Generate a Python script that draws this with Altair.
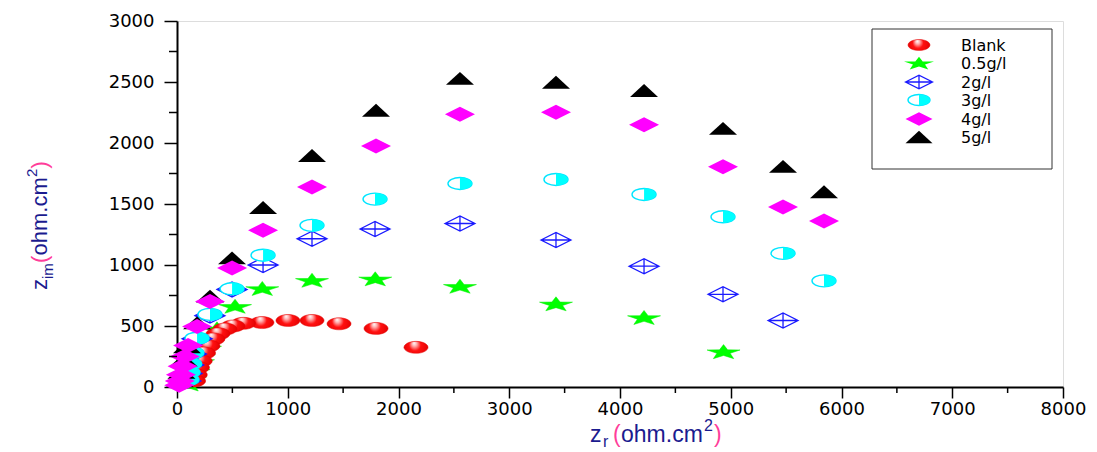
import math
import altair as alt
import pandas as pd

# ---------------- data ----------------
labels = ["Blank", "0.5g/l", "2g/l", "3g/l", "4g/l", "5g/l"]

blank_zr = [2158, 1797, 1463, 1219, 1002, 767, 600, 506, 433, 370, 325, 280, 240, 210, 185, 165, 150]
blank_zim = [325, 480, 518, 545, 545, 528, 522, 500, 475, 436, 394, 337, 279, 214, 160, 100, 50]

c05_zr = [4935, 4217, 3422, 2555, 1790, 1219, 770, 524, 361, 253, 190, 150, 120, 100]
c05_zim = [290, 570, 682, 826, 887, 875, 808, 662, 477, 320, 210, 130, 70, 25]

c2_zr = [5472, 4930, 4217, 3422, 2555, 1788, 1219, 777, 497, 298, 181, 130, 105, 90, 80]
c2_zim = [545, 760, 990, 1205, 1340, 1295, 1215, 1000, 800, 585, 395, 270, 180, 110, 50]

c3_zr = [5842, 5472, 4930, 4217, 3422, 2555, 1788, 1219, 777, 497, 298, 181, 135, 115, 100, 90]
c3_zim = [870, 1095, 1395, 1578, 1701, 1668, 1540, 1325, 1080, 805, 595, 400, 280, 190, 120, 60]

c4_zr = [5842, 5472, 4930, 4217, 3422, 2555, 1797, 1219, 777, 497, 298, 181, 100, 70, 50, 35, 25, 20]
c4_zim = [1360, 1475, 1805, 2150, 2252, 2235, 1975, 1640, 1285, 975, 700, 495, 340, 250, 170, 100, 50, 15]

c5_zr = [5842, 5472, 4930, 4217, 3422, 2555, 1797, 1219, 777, 497, 298, 181, 90, 60, 40, 25]
c5_zim = [1600, 1808, 2120, 2430, 2498, 2530, 2268, 1898, 1471, 1058, 745, 526, 330, 220, 120, 50]

x_major = [0, 1000, 2000, 3000, 4000, 5000, 6000, 7000, 8000]
x_minor = [500, 1500, 2500, 3500, 4500, 5500, 6500, 7500]
y_major = [0, 500, 1000, 1500, 2000, 2500, 3000]
y_minor = [250, 750, 1250, 1750, 2250, 2750]

# ---------------- layout / style ----------------
W, H = 886, 366
LABEL_FONT = "DejaVu Sans"
TITLE_FONT = "Liberation Sans"
NAVY = "#1b1b8f"
PINK = "#ff3d9a"
LBL_SIZE = 18
LEG_SIZE = 16

# marker shapes (unit box, x in [-1, 1])
ELLIPSE = "M-1,0A1,0.5,0,1,0,1,0A1,0.5,0,1,0,-1,0Z"
RIGHT_HALF = "M0,-0.5A1,0.5,0,0,1,0,0.5Z"
DIAMOND = "M-1,0L0,-0.5L1,0L0,0.5Z"
X_DIAMOND = "M-1,0L0,-0.5L1,0L0,0.5Z M-1,0L1,0 M0,-0.5L0,0.5"
TRIANGLE = "M0,-0.46L1,0.46L-1,0.46Z"


def star_path():
    pts = []
    sy = 0.85 / 1.809
    for k in range(10):
        a = math.radians(-90 + 36 * k)
        r = 1.0 if k % 2 == 0 else 0.40
        px = r * math.cos(a) / 0.951
        py = r * math.sin(a) * sy + 0.045
        pts.append(f"{px:.3f},{py:.3f}")
    return "M" + "L".join(pts) + "Z"


STAR = star_path()

RED_GRAD = {
    "gradient": "radial",
    "x1": 0.42, "y1": 0.32, "r1": 0.0,
    "x2": 0.5, "y2": 0.5, "r2": 0.55,
    "stops": [
        {"offset": 0.0, "color": "#ffffff"},
        {"offset": 0.18, "color": "#ffb0b0"},
        {"offset": 0.45, "color": "#ff1010"},
        {"offset": 1.0, "color": "#e00000"},
    ],
}

xs = alt.Scale(domain=[0, 8000], nice=False, zero=False)
ys = alt.Scale(domain=[0, 3000], nice=False, zero=False)

x_axis = alt.Axis(values=x_major, format="d", grid=False, tickSize=11, tickWidth=1.5,
                  tickColor="black", domainColor="black", domainWidth=2,
                  labelFont=LABEL_FONT, labelFontSize=LBL_SIZE, labelColor="black",
                  labelPadding=2, labelFlush=False, labelOverlap=False)
y_axis = alt.Axis(values=y_major, format="d", grid=False, tickSize=13, tickWidth=1.5,
                  tickColor="black", domainColor="black", domainWidth=2,
                  labelFont=LABEL_FONT, labelFontSize=LBL_SIZE, labelColor="black",
                  labelPadding=10, labelFlush=False, labelOverlap=False)


def xy():
    return dict(x=alt.X("zr:Q", scale=xs, axis=x_axis, title=None),
                y=alt.Y("zim:Q", scale=ys, axis=y_axis, title=None))


def df(a, b):
    return pd.DataFrame({"zr": a, "zim": b})


one = alt.Data(values=[{}])
layers = []

# series layers (drawing order)
layers.append(alt.Chart(df(c05_zr, c05_zim)).mark_point(
    shape=STAR, filled=True, fill="#00ff00", stroke="#00ee00", strokeWidth=0.5,
    size=1089, opacity=1).encode(**xy()))
layers.append(alt.Chart(df(blank_zr, blank_zim)).mark_point(
    shape=ELLIPSE, filled=True, fill=RED_GRAD, stroke="#e00000", strokeWidth=0.5,
    size=576, opacity=1).encode(**xy()))
layers.append(alt.Chart(df(c2_zr, c2_zim)).mark_point(
    shape=X_DIAMOND, filled=False, stroke="#1a1aff", strokeWidth=1.3,
    size=900, opacity=1).encode(**xy()))
layers.append(alt.Chart(df(c3_zr, c3_zim)).mark_point(
    shape=ELLIPSE, filled=True, fill="white", stroke="#00e5ff", strokeWidth=1.4,
    size=576, opacity=1).encode(**xy()))
layers.append(alt.Chart(df(c3_zr, c3_zim)).mark_point(
    shape=RIGHT_HALF, filled=True, fill="#00ffff", strokeWidth=0,
    size=576, opacity=1).encode(**xy()))
layers.append(alt.Chart(df(c5_zr, c5_zim)).mark_point(
    shape=TRIANGLE, filled=True, fill="black", strokeWidth=0,
    size=784, opacity=1).encode(**xy()))
layers.append(alt.Chart(df(c4_zr, c4_zim)).mark_point(
    shape=DIAMOND, filled=True, fill="#ff00ff", strokeWidth=0,
    size=900, opacity=1).encode(**xy()))

# minor ticks
layers.append(alt.Chart(pd.DataFrame({"zr": x_minor})).mark_rule(
    color="black", strokeWidth=1.5).encode(
    x=alt.X("zr:Q", scale=xs, axis=x_axis, title=None),
    y=alt.value(H), y2=alt.value(H + 6)))
layers.append(alt.Chart(pd.DataFrame({"zim": y_minor})).mark_rule(
    color="black", strokeWidth=1.5).encode(
    y=alt.Y("zim:Q", scale=ys, axis=y_axis, title=None),
    x=alt.value(-8), x2=alt.value(0)))

# legend box
LX0, LX1, LY0, LY1 = 695, 875, 8, 148
layers.append(alt.Chart(one).mark_rect(fill="white", stroke="#333333", strokeWidth=1).encode(
    x=alt.value(LX0), x2=alt.value(LX1), y=alt.value(LY0), y2=alt.value(LY1)))

row_y = [24, 42, 61, 79, 98, 116]
sym_x = 742
txt_x = 784
legend_syms = [
    [dict(shape=ELLIPSE, filled=True, fill=RED_GRAD, stroke="#e00000", strokeWidth=0.5, size=484)],
    [dict(shape=STAR, filled=True, fill="#00ff00", strokeWidth=0, size=900)],
    [dict(shape=X_DIAMOND, filled=False, stroke="#1a1aff", strokeWidth=1.3, size=729)],
    [dict(shape=ELLIPSE, filled=True, fill="white", stroke="#00e5ff", strokeWidth=1.4, size=484),
     dict(shape=RIGHT_HALF, filled=True, fill="#00ffff", strokeWidth=0, size=484)],
    [dict(shape=DIAMOND, filled=True, fill="#ff00ff", strokeWidth=0, size=729)],
    [dict(shape=TRIANGLE, filled=True, fill="black", strokeWidth=0, size=729)],
]
for i, lab in enumerate(labels):
    for spec in legend_syms[i]:
        layers.append(alt.Chart(one).mark_point(opacity=1, **spec).encode(
            x=alt.value(sym_x), y=alt.value(row_y[i])))
    layers.append(alt.Chart(one).mark_text(
        align="left", baseline="middle", font=LABEL_FONT, fontSize=LEG_SIZE, color="black").encode(
        x=alt.value(txt_x), y=alt.value(row_y[i] + 1), text=alt.value(lab)))

# axis titles (pieces: text, page x, page y, size, colour)
OX, OY = 177, 21
x_title = [("z", 590, 442, 23, NAVY), ("r", 603, 447, 16, NAVY), ("(", 613, 442, 23, PINK),
           ("ohm.cm", 621, 442, 23, NAVY), ("2", 704, 431, 16, NAVY), (")", 714, 442, 23, PINK)]
for s, px, py, fs, col in x_title:
    layers.append(alt.Chart(one).mark_text(
        align="left", baseline="alphabetic", font=TITLE_FONT, fontSize=fs, color=col).encode(
        x=alt.value(px - OX), y=alt.value(py - OY), text=alt.value(s)))

y_title = [("z", 47, 290, 22, NAVY), ("im", 53, 279, 15, NAVY), ("(", 47, 263, 22, PINK),
           ("ohm.cm", 47, 255.5, 22, NAVY), ("2", 37, 177, 15, NAVY), (")", 47, 168.5, 22, PINK)]
for s, px, py, fs, col in y_title:
    layers.append(alt.Chart(one).mark_text(
        align="left", baseline="alphabetic", font=TITLE_FONT, fontSize=fs, color=col,
        angle=270).encode(
        x=alt.value(px - OX), y=alt.value(py - OY), text=alt.value(s)))

chart = alt.layer(*layers).properties(
    width=W, height=H,
    autosize=alt.AutoSizeParams(type="none"),
    padding={"left": 169, "top": 13, "right": 26, "bottom": 64},
).configure_view(stroke="black", strokeWidth=1.3).configure(background="white")

chart.save("out.html", embed_options={"renderer": "svg", "actions": False})
